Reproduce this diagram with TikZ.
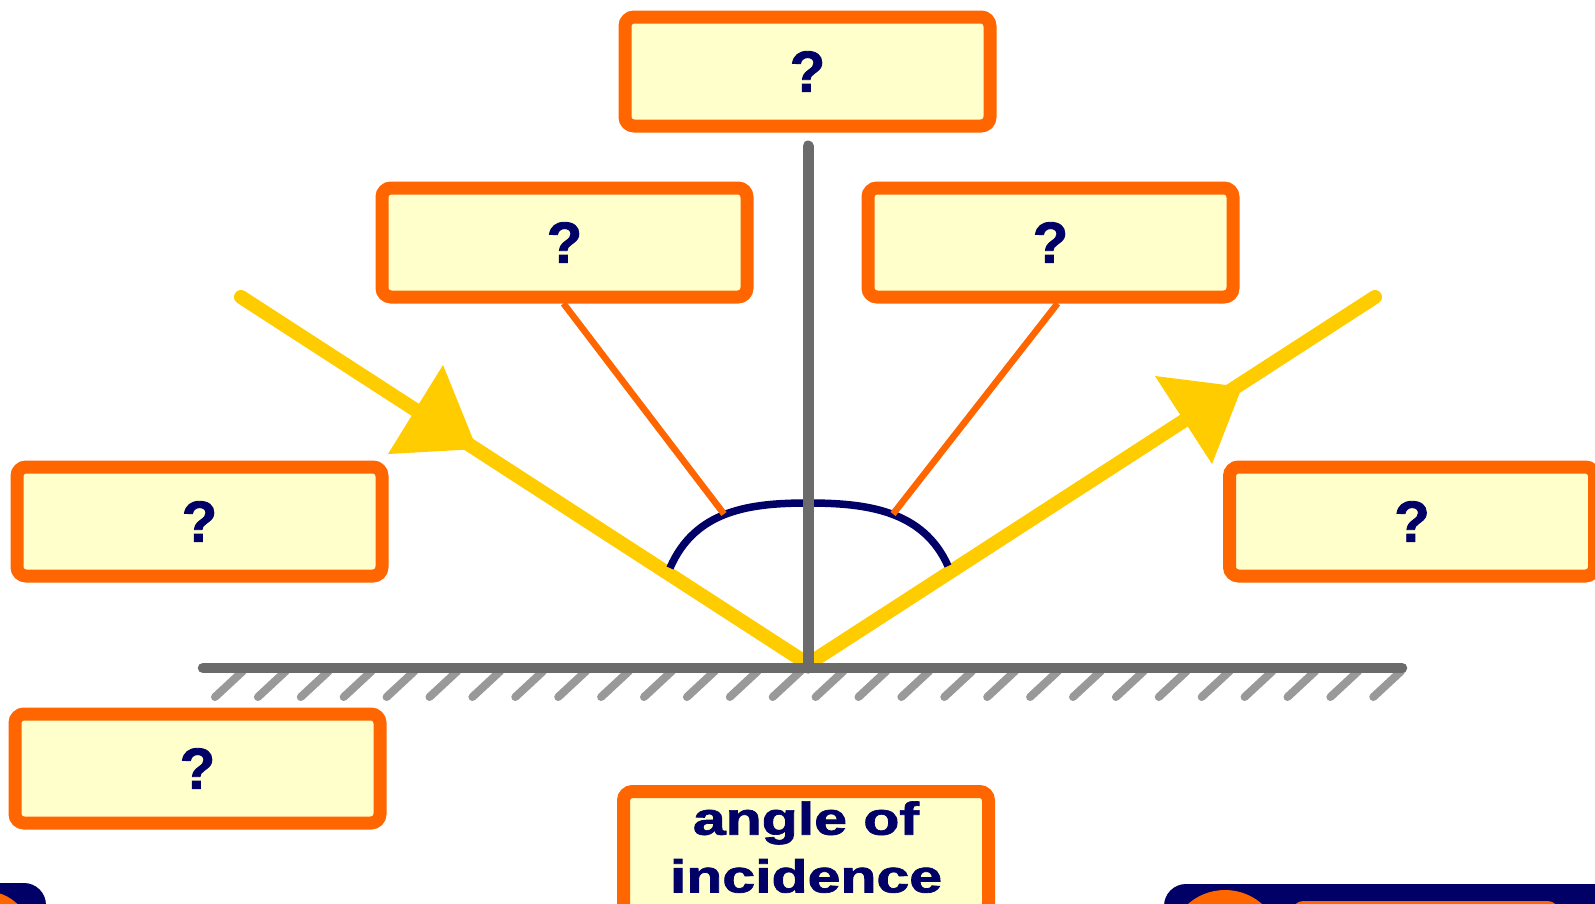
\documentclass[tikz,border=0pt]{standalone}
\usepackage{fontspec}
\setmainfont{Liberation Sans}[BoldFeatures={FakeBold=1.5}]
\usetikzlibrary{calc}
\definecolor{boxfill}{HTML}{FFFFCC}
\definecolor{boxline}{HTML}{FF6600}
\definecolor{navy}{HTML}{000066}
\definecolor{raycol}{HTML}{FFCC00}
\definecolor{normalgray}{HTML}{6B6B6B}
\definecolor{hatchgray}{HTML}{999999}
\begin{document}
\begin{tikzpicture}[x=1pt,y=-1pt,
  qbox/.style={draw=boxline, fill=boxfill, line width=13pt, rounded corners=9pt,
    minimum width=365pt, minimum height=109pt, inner sep=0pt, text=navy,
    font=\fontsize{58}{60}\selectfont\bfseries},
  leader/.style={draw=boxline, line width=6.5pt},
  lightray/.style={draw=raycol, line width=14pt, line cap=round},
  raytip/.style={fill=raycol},
  mirrorline/.style={draw=normalgray, line width=10.5pt, line cap=round},
  normalline/.style={draw=normalgray, line width=11pt, line cap=round},
  hatchline/.style={draw=hatchgray, line width=8pt, line cap=round},
  anglearc/.style={draw=navy, line width=7.5pt},
  panel/.style={fill=navy, rounded corners=22pt}]
\useasboundingbox (0,0) rectangle (1595,903);
\clip (0,0) rectangle (1595,903);
\fill[white] (0,0) rectangle (1595,903);

% hatching under the mirror
\foreach \i in {0,...,27}
  \draw[hatchline] ({215+\i*42.9},697) -- ++(28,-26);

% light rays
\coordinate (src) at (241,297);
\coordinate (hit) at (808,664);
\coordinate (dst) at (1375,297);
\draw[lightray] (src) -- (hit);
\draw[lightray] (hit) -- (dst);
\fill[raytip] (477,449) -- (443,365) -- (388,454) -- cycle;
\fill[raytip] (1242,387) -- (1155,376) -- (1212,464) -- cycle;

% mirror
\coordinate (ml) at (203,668);
\coordinate (mr) at (1402,668);
\draw[mirrorline] (ml) -- (mr);

% angle arc
\coordinate (arcL) at (670,568);
\coordinate (arcT) at (808,503);
\coordinate (arcR) at (948,566);
\draw[anglearc] (arcL) .. controls (695,510) and (750,503) .. (arcT)
  .. controls (866,503) and (923,510) .. (arcR);

% normal
\coordinate (ntop) at (808,146);
\coordinate (nbot) at (808,668);
\draw[normalline] (ntop) -- (nbot);

% boxes
\node[qbox] (top) at (807.5,71.5) {?};
\node[qbox] (lm) at (564.5,242.5) {?};
\node[qbox] (rm) at (1050.5,242.5) {?};
\node[qbox] (l3) at (199.5,521.5) {?};
\node[qbox] (r3) at (1412,521.5) {?};
\node[qbox] (l4) at (197.5,768.5) {?};
\node[qbox, minimum height=121pt] (aoi) at (806,852)
  {\fontsize{59}{74}\selectfont\scalebox{1}[0.78]{\begin{tabular}{@{}c@{}}angle of\\incidence\end{tabular}}};

% leader lines
\coordinate (la) at (724,514);
\coordinate (ra) at (893,514);
\draw[leader] ([xshift=-1pt]lm.south) -- (la);
\draw[leader] ([xshift=7pt]rm.south) -- (ra);

% cut-off panels at the bottom corners
\fill[panel] (-60,883) rectangle (46,990);
\fill[boxline] (-15,938) circle (47);
\fill[panel] (1164,884) rectangle (1660,990);
\fill[boxline] (1225,946) circle (56);
\fill[boxline, rounded corners=10pt] (1293,901) rectangle (1558,960);
\end{tikzpicture}
\end{document}
